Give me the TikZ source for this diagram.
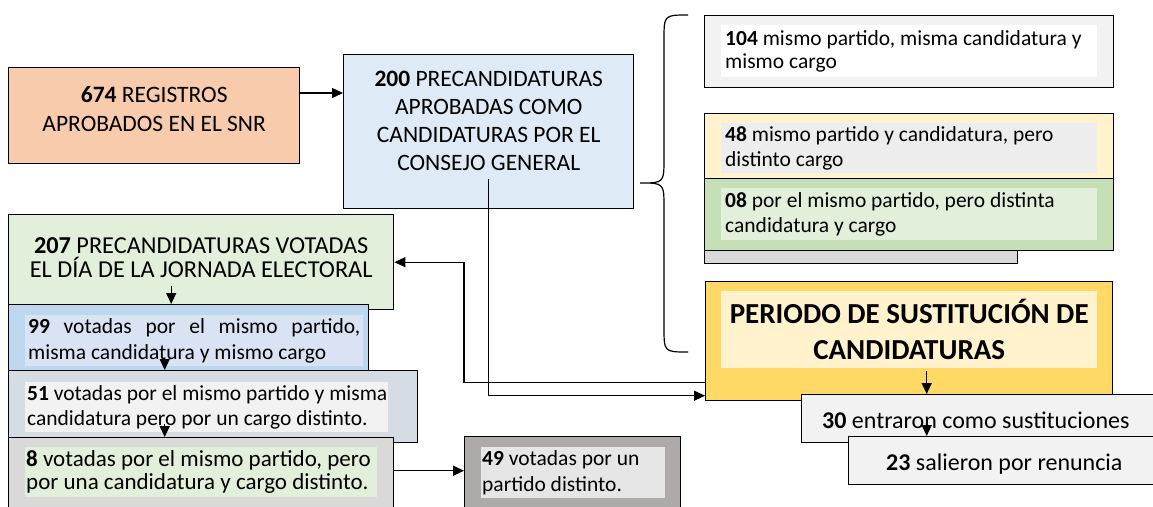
\documentclass[tikz,border=0pt]{standalone}
\usepackage{fontspec}
\setmainfont{Carlito}
\usetikzlibrary{arrows.meta}

\definecolor{peach}{HTML}{F8CBAD}
\definecolor{paleblue}{HTML}{DEEBF7}
\definecolor{palegreen}{HTML}{E2EFDA}
\definecolor{midblue}{HTML}{BDD7EE}
\definecolor{softblue}{HTML}{DAE3F3}
\definecolor{slate}{HTML}{D6DCE4}
\definecolor{offwhite}{HTML}{F2F2F2}
\definecolor{lightgrey}{HTML}{D9D9D9}
\definecolor{darkgrey}{HTML}{AEAAAA}
\definecolor{ash}{HTML}{E7E6E6}
\definecolor{gold}{HTML}{FFD966}
\definecolor{cream}{HTML}{FFF2CC}
\definecolor{mist}{HTML}{EDEDED}
\definecolor{leaf}{HTML}{C5E0B4}

\tikzset{
  box/.style={draw, line width=1.4pt, anchor=north west, inner sep=0pt},
  inbox/.style={anchor=north west, inner sep=0pt},
  small/.style={anchor=west, inner sep=0pt, align=left, font=\fontsize{21.5}{24.5}\selectfont},
  txt/.style={align=center, font=\fontsize{23.5}{29}\selectfont},
  line/.style={line width=1.2pt},
  arr/.style={line width=1.2pt, -{Triangle[length=11pt,width=10pt]}}
}

\begin{document}
\begin{tikzpicture}[x=1pt, y=-1pt]
  \useasboundingbox (0,0) rectangle (1153,506);
  \clip (0,0) rectangle (1153,506);

  % top row
  \node[box, fill=peach, minimum width=291, minimum height=96] (b674) at (8,67) {};
  \node[txt] at ([yshift=7pt]b674.center) {\textbf{674} REGISTROS\\APROBADOS EN EL SNR};
  \node[box, fill=paleblue, minimum width=290, minimum height=154] (b200) at (343,54) {};
  \node[txt, font=\fontsize{23.5}{28}\selectfont] at ([yshift=11pt]b200.center)
    {\textbf{200} PRECANDIDATURAS\\APROBADAS COMO\\CANDIDATURAS POR EL\\CONSEJO GENERAL};
  \draw[arr] (b674.east |- 0,93) -- (b200.west |- 0,93);

  % left column
  \node[box, fill=palegreen, minimum width=385, minimum height=95] (b207) at (8,214) {};
  \node[txt, font=\fontsize{24.3}{24}\selectfont] at ([yshift=5pt]b207.center)
    {\textbf{207} PRECANDIDATURAS VOTADAS\\EL DÍA DE LA JORNADA ELECTORAL};

  \node[box, fill=midblue, minimum width=360, minimum height=66] (b99) at (8,304) {};
  \node[inbox, fill=softblue, minimum width=338, minimum height=51, text width=332,
    inner xsep=3pt, align=justify, font=\fontsize{21.5}{26.5}\selectfont] (t99) at (25,315)
    {\textbf{99} votadas por el mismo partido, misma candidatura y mismo cargo};

  \node[box, fill=slate, minimum width=409, minimum height=72] (b51) at (8,370) {};
  \node[inbox, fill=offwhite, minimum width=363, minimum height=50] (f51) at (25,382) {};
  \node[small] (t51) at ([xshift=2pt]f51.west)
    {\textbf{51} votadas por el mismo partido y misma\\candidatura pero por un cargo distinto.};

  \node[box, fill=lightgrey, minimum width=385, minimum height=100] (b8) at (8,437) {};
  \node[inbox, fill=palegreen, minimum width=352, minimum height=50] (f8) at (25,447) {};
  \node[small, font=\fontsize{23}{23.5}\selectfont] (t8) at ([xshift=1pt]f8.west)
    {\textbf{8} votadas por el mismo partido, pero\\por una candidatura y cargo distinto.};

  \node[box, fill=darkgrey, minimum width=216, minimum height=100] (b49) at (464,436) {};
  \node[inbox, fill=ash, minimum width=184, minimum height=51] (f49) at (481,447) {};
  \node[small, font=\fontsize{21.5}{26}\selectfont] (t49) at ([xshift=1pt]f49.west)
    {\textbf{49} votadas por un\\partido distinto.};

  % right column
  \node[box, fill=offwhite, minimum width=409, minimum height=72] (b104) at (704,15) {};
  \node[inbox, fill=white, minimum width=376, minimum height=52] (f104) at (721,25) {};
  \node[small, font=\fontsize{21.5}{23.5}\selectfont] (t104) at ([xshift=4pt]f104.west)
    {\textbf{104} mismo partido, misma candidatura y\\mismo cargo};

  \node[box, fill=cream, minimum width=409, minimum height=65] (b48) at (704,113) {};
  \node[inbox, fill=mist, minimum width=376, minimum height=50] (f48) at (721,123) {};
  \node[small] (t48) at ([xshift=4pt]f48.west)
    {\textbf{48} mismo partido y candidatura, pero\\distinto cargo};

  \node[box, fill=lightgrey, minimum width=313, minimum height=63] (bgrey) at (704,200) {};
  \node[box, fill=leaf, minimum width=409, minimum height=72] (b08) at (704,178) {};
  \node[inbox, fill=palegreen, minimum width=376, minimum height=52] (f08) at (721,188) {};
  \node[small] (t08) at ([xshift=4pt]f08.west)
    {\textbf{08} por el mismo partido, pero distinta\\candidatura y cargo};

  % brace
  \draw[line] (688,15) .. controls (664,15) .. (664,40) -- (664,158)
    .. controls (664,183) .. (640,183) .. controls (664,183) .. (664,208)
    -- (664,327) .. controls (664,352) .. (688,352);

  % substitution period
  \node[box, fill=gold, minimum width=407, minimum height=119] (bper) at (705,281) {};
  \node[inbox, fill=cream, minimum width=376, minimum height=77, align=center,
    font=\bfseries\fontsize{29}{36}\selectfont] (tper) at (721,291)
    {PERIODO DE SUSTITUCIÓN DE\\CANDIDATURAS};
  \node[box, fill=offwhite, minimum width=400, minimum height=48] (b30) at (801,394) {};
  \node[small, font=\fontsize{24}{25}\selectfont] (t30) at ([shift={(21,2)}]b30.west)
    {\textbf{30} entraron como sustituciones};
  \node[box, fill=offwhite, minimum width=350, minimum height=48] (b23) at (848,436) {};
  \node[small, font=\fontsize{24}{25}\selectfont] (t23) at ([shift={(38,3)}]b23.west)
    {\textbf{23} salieron por renuncia};

  % connectors
  \draw[arr] ([yshift=30pt]b200.south) |- ([yshift=-54.5pt]bper.west);
  \draw[arr] ([yshift=-41.5pt]bper.west) -- ++(-241,0) |- (b207.east);
  \draw[arr] ([yshift=17pt]b8.east) -- ([yshift=17pt]b8.east -| b49.west);
  \draw[arr] ([shift={(-30,-24)}]b207.south) -- ([xshift=-30pt]b207.south |- b99.north);
  \draw[arr] ([shift={(-24,-13)}]b99.south) -- ([xshift=-24pt]b99.south |- b51.north);
  \draw[arr] ([shift={(-48.5,-19)}]b51.south) -- ([xshift=-48.5pt]b51.south |- b8.north);
  \draw[arr] ([shift={(17.5,-30)}]bper.south) -- ([xshift=17.5pt]bper.south |- b30.north);
  \draw[arr] ([xshift=17.5pt]bper.south |- t30.center) -- ([xshift=17.5pt]bper.south |- b23.north);
\end{tikzpicture}
\end{document}
